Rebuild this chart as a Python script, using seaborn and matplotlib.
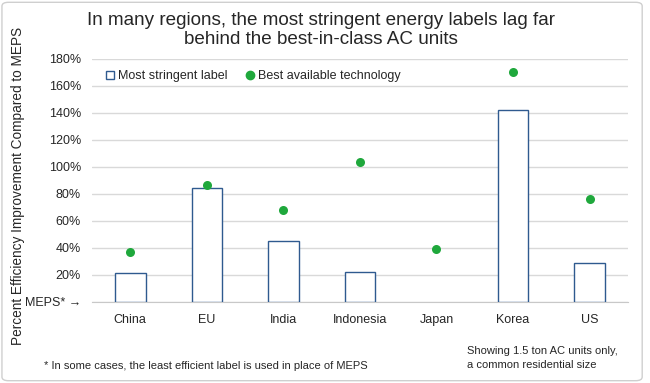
import numpy as np
import pandas as pd
import matplotlib
matplotlib.use('Agg')
import matplotlib.pyplot as plt
from matplotlib.lines import Line2D
from matplotlib.patches import FancyBboxPatch
import seaborn as sns

# values (percent improvement over MEPS)
regions = ['China', 'EU', 'India', 'Indonesia', 'Japan', 'Korea', 'US']
label_vals = [21.5, 84.5, 45, 22, np.nan, 142, 29]
bat_vals = [37, 87, 68, 104, 39, 170, 76]
ytick_vals = [0, 20, 40, 60, 80, 100, 120, 140, 160, 180]
ytick_text = ['MEPS* \u2192'] + [f'{v}%' for v in ytick_vals[1:]]

df = pd.DataFrame({'region': regions, 'label': label_vals, 'bat': bat_vals})

sns.set_style('white')
plt.rcParams['font.family'] = ['Liberation Sans', 'DejaVu Sans']

bar_edge = '#2f5a8f'
dot_color = '#1fa83c'

fig = plt.figure(figsize=(6.5, 3.83), dpi=100)
ax = fig.add_axes([0.1415, 0.2115, 0.8245, 0.6345])

sns.barplot(data=df, x='region', y='label', order=regions, width=0.4,
            color='white', edgecolor=bar_edge, linewidth=1.0, ax=ax, zorder=3)
sns.stripplot(data=df, x='region', y='bat', order=regions, jitter=False,
              color=dot_color, size=6.5, linewidth=0, ax=ax, zorder=4)

ax.set_ylim(0, 180)
ax.set_xlim(-0.5, len(regions) - 0.5)
ax.set_yticks(ytick_vals)
ax.set_yticklabels(ytick_text, fontsize=9)
ax.tick_params(axis='x', labelsize=9, length=0, pad=9)
ax.tick_params(axis='y', length=0, pad=8)
ax.yaxis.grid(True, color='#d9d9d9', linewidth=1.0, zorder=0)
ax.set_axisbelow(True)
for s in ['top', 'right', 'left']:
    ax.spines[s].set_visible(False)
ax.spines['bottom'].set_color('#c8c8c8')
ax.set_xlabel('')
ax.set_ylabel('Percent Efficiency Improvement Compared to MEPS', fontsize=9.8)
ax.yaxis.set_label_coords(-0.125, 0.477)

handles = [
    Line2D([], [], marker='s', linestyle='none', markerfacecolor='white',
           markeredgecolor=bar_edge, markersize=5.5, markeredgewidth=1.0),
    Line2D([], [], marker='o', linestyle='none', color=dot_color, markersize=6),
]
ax.legend(handles, ['Most stringent label', 'Best available technology'],
          ncol=2, frameon=False, fontsize=9, loc='center left',
          bbox_to_anchor=(0.01, 0.93), handletextpad=0.05, columnspacing=1.2,
          borderaxespad=0, handlelength=1.2)

fig.text(0.494, 0.922, 'In many regions, the most stringent energy labels lag far\n'
         'behind the best-in-class AC units', ha='center', va='center',
         fontsize=13.6, linespacing=1.17)
fig.text(0.068, 0.045, '* In some cases, the least efficient label is used in place of MEPS',
         fontsize=8, va='center')
fig.text(0.718, 0.065, 'Showing 1.5 ton AC units only,\na common residential size',
         fontsize=8, va='center', linespacing=1.45)

fig.patches.append(FancyBboxPatch((0.003, 0.006), 0.985, 0.988,
                                  boxstyle='round,pad=0,rounding_size=0.01',
                                  transform=fig.transFigure, fill=False,
                                  edgecolor='#cfcfcf', linewidth=1.0))

fig.savefig('out.png', dpi=100)
